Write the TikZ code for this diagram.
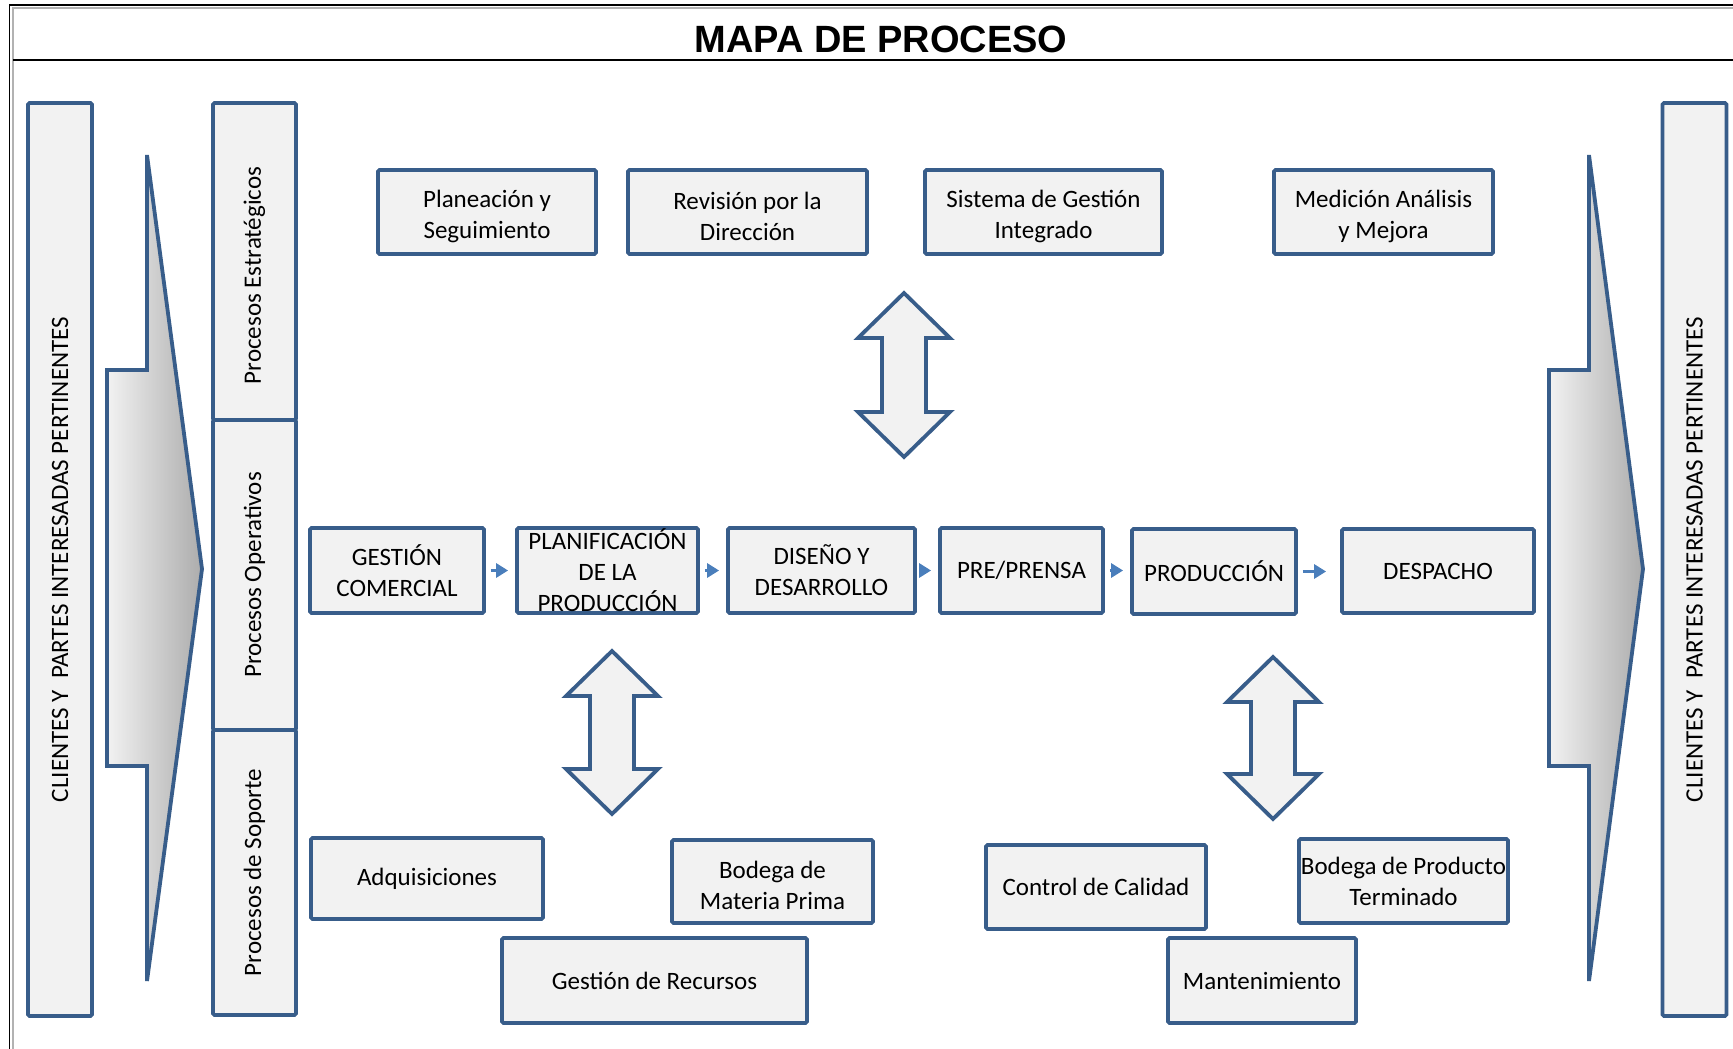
\documentclass[tikz,border=0pt]{standalone}
\usepackage{fontspec}
\setmainfont{Carlito}
\newfontfamily\titlefont{Liberation Sans}
\usetikzlibrary{arrows.meta}
\definecolor{boxblue}{HTML}{385D8A}
\definecolor{boxfill}{HTML}{F2F2F2}
\definecolor{flowblue}{HTML}{4A7EBB}
\begin{document}
\begin{tikzpicture}[x=1pt,y=-1pt,
  pbox/.style={draw=boxblue,fill=boxfill,line width=3.8pt,rounded corners=1.5pt,
    align=center,inner sep=0pt,font=\fontsize{25}{31}\selectfont},
  sidebox/.style={pbox,rotate=90,minimum height=64pt,minimum width=913pt},
  lanebox/.style={pbox,rotate=90,minimum height=83pt},
  bigarrow/.style={draw=boxblue,line width=3.8pt,left color=gray!10,right color=gray!65},
  twoway/.style={draw=boxblue,fill=boxfill,line width=3.8pt},
  flow/.style={-{Triangle[length=12pt,width=14pt]},flowblue,line width=3pt,
    shorten <=5pt,shorten >=7pt}]
  \useasboundingbox (0,0) rectangle (1733,1049);
  \clip (0,0) rectangle (1733,1049);
  \draw[line width=1.4pt] (9.5,1080) -- (9.5,5) -- (1760,5);
  \draw[gray!60,line width=2pt] (13,1080) -- (13,8.5) -- (1760,8.5);
  \draw[line width=2pt] (13,60) -- (1760,60);
  \node[font=\titlefont\bfseries\fontsize{38}{40}\selectfont] (title) at (881,39) {MAPA DE PROCESO};

  \node[sidebox] (cliL) at (60,559.5) {CLIENTES Y~~PARTES INTERESADAS PERTINENTES};
  \node[sidebox] (cliR) at (1694.5,559.5) {CLIENTES Y~~PARTES INTERESADAS PERTINENTES};
  \draw[bigarrow] (107,370) -- (147,370) -- (147,155) -- (202,569) -- (147,981) -- (147,766) -- (107,766) -- cycle;
  \draw[bigarrow] (1549,370) -- (1589,370) -- (1589,155) -- (1643,569) -- (1589,981) -- (1589,766) -- (1549,766) -- cycle;

  \node[lanebox,minimum width=317pt] (lest) at (254.5,261.5) {Procesos Estratégicos\hspace*{28pt}};
  \node[lanebox,minimum width=310pt] (lope) at (254.5,575) {Procesos Operativos};
  \node[lanebox,minimum width=285pt] (lsop) at (254.5,872.5) {Procesos de Soporte};

  \node[pbox,minimum width=218pt,minimum height=84pt] (plseg) at (487,212) {\rule{0pt}{26pt}Planeación y\\Seguimiento};
  \node[pbox,minimum width=239pt,minimum height=84pt] (rev) at (747.5,212) {\rule{0pt}{26pt}Revisión por la\\Dirección};
  \node[pbox,minimum width=237pt,minimum height=84pt] (sgi) at (1043.5,212) {\rule{0pt}{26pt}Sistema de Gestión\\Integrado};
  \node[pbox,minimum width=219pt,minimum height=84pt] (med) at (1383.5,212) {\rule{0pt}{26pt}Medición Análisis\\y Mejora};

  \node[pbox,minimum width=174pt,minimum height=85pt] (gcom) at (397,570.5) {GESTIÓN\\COMERCIAL};
  \node[pbox,minimum width=181pt,minimum height=85pt,inner ysep=-4pt] (plprod) at (607.5,570.5) {PLANIFICACIÓN\\DE LA\\PRODUCCIÓN};
  \node[pbox,minimum width=187pt,minimum height=85pt] (dis) at (821.5,570.5) {DISEÑO Y\\DESARROLLO};
  \node[pbox,minimum width=163pt,minimum height=85pt] (pre) at (1021.5,570.5) {PRE/PRENSA};
  \node[pbox,minimum width=164pt,minimum height=85pt] (prod) at (1214,571.5) {PRODUCCIÓN};
  \node[pbox,minimum width=192pt,minimum height=84pt] (desp) at (1438,571) {DESPACHO};
  \draw[flow] (gcom) -- (plprod);
  \draw[flow] (plprod) -- (dis);
  \draw[flow] (dis) -- (pre);
  \draw[flow] (pre.east) -- (pre.east -| prod.west);
  \draw[flow,shorten >=14pt] (prod.east) -- (prod.east -| desp.west);

  \foreach \cx/\ty/\by in {904/293/457,612/651/814,1273/657/819}
    \draw[twoway] (\cx,\ty) -- (\cx+46,\ty+45) -- (\cx+22,\ty+45) -- (\cx+22,\by-45) -- (\cx+46,\by-45)
      -- (\cx,\by) -- (\cx-46,\by-45) -- (\cx-22,\by-45) -- (\cx-22,\ty+45) -- (\cx-46,\ty+45) -- cycle;

  \node[pbox,minimum width=232pt,minimum height=81pt] (adq) at (427,878.5) {Adquisiciones};
  \node[pbox,minimum width=201pt,minimum height=83pt] (bmp) at (772.5,881.5) {\rule{0pt}{26pt}Bodega de\\Materia Prima};
  \node[pbox,minimum width=305pt,minimum height=85pt] (grec) at (654.5,980.5) {Gestión de Recursos};
  \node[pbox,minimum width=220pt,minimum height=84pt] (ccal) at (1096,887) {Control de Calidad};
  \node[pbox,minimum width=209pt,minimum height=84pt] (bpt) at (1403.5,881) {Bodega de Producto\\Terminado};
  \node[pbox,minimum width=188pt,minimum height=85pt] (mant) at (1262,980.5) {Mantenimiento};
\end{tikzpicture}
\end{document}
